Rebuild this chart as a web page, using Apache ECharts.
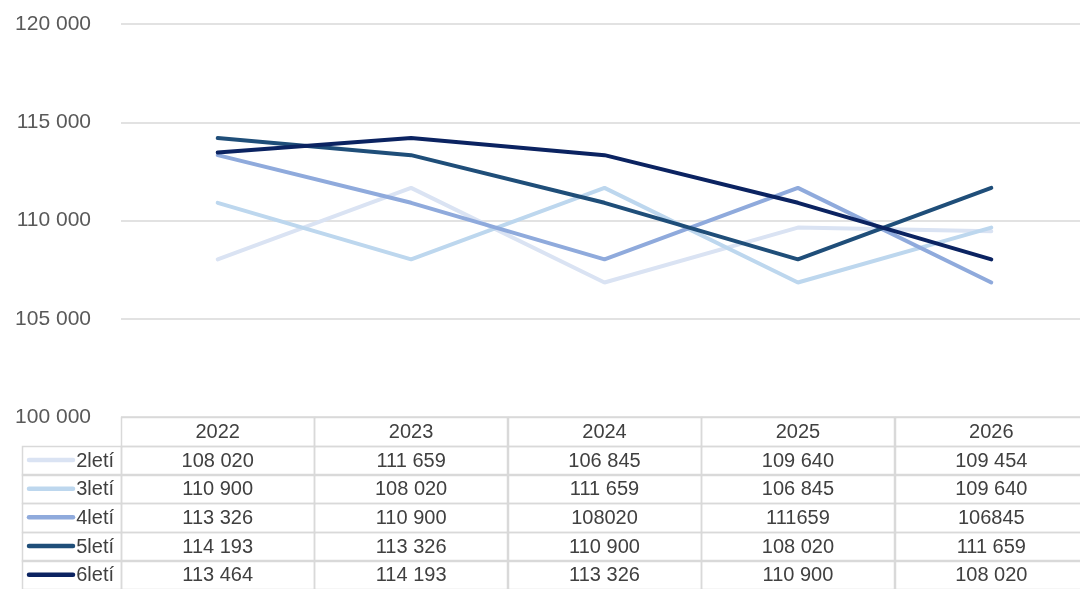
<!DOCTYPE html>
<html>
<head>
<meta charset="utf-8">
<script src="https://cdn.jsdelivr.net/npm/echarts@6/dist/echarts.min.js"></script>
<style>html,body{margin:0;padding:0;background:#fff;overflow:hidden;width:1080px;height:589px}#c{width:1090px;height:589px}</style>
</head>
<body>
<div id="c"></div>
<script>
var years = ['2022', '2023', '2024', '2025', '2026'];
var seriesNames = ['2letí', '3letí', '4letí', '5letí', '6letí'];
var s2 = [108020, 111659, 106845, 109640, 109454];
var s3 = [110900, 108020, 111659, 106845, 109640];
var s4 = [113326, 110900, 108020, 111659, 106845];
var s5 = [114193, 113326, 110900, 108020, 111659];
var s6 = [113464, 114193, 113326, 110900, 108020];
var yTicks = [100000, 105000, 110000, 115000, 120000];
// cells shown without thousands space in the table: [seriesIndex, yearIndex]
var unspacedCells = [[2, 2], [2, 3], [2, 4]];
var colors = ['#dae3f3', '#bdd7ee', '#8faadc', '#1f4e79', '#0b2361'];

var allSeries = [s2, s3, s4, s5, s6];
function fmt(v) { return String(v).replace(/\B(?=(\d{3})+(?!\d))/g, ' '); }
function isUnspaced(si, yi) {
  return unspacedCells.some(function (p) { return p[0] === si && p[1] === yi; });
}
var FONT = '"Liberation Sans", Arial, sans-serif';
var TXT = '#404040';
var BORDER = '#d9d9d9';

var tableData = [];
for (var r = 0; r <= seriesNames.length; r++) {
  for (var c = 0; c < years.length; c++) tableData.push([c, r]);
}

var chart = echarts.init(document.getElementById('c'), null, { renderer: 'canvas' });
var lineSeries = seriesNames.map(function (n, i) {
  return {
    name: n, type: 'line', xAxisIndex: 0, yAxisIndex: 0,
    data: allSeries[i], symbol: 'none', smooth: false,
    lineStyle: { color: colors[i], width: 4, cap: 'round' }, itemStyle: { color: colors[i] },
    z: 2 + i, animation: false
  };
});

chart.setOption({
  animation: false,
  grid: [
    { left: 121, width: 967, top: 24, height: 393 },
    { left: 121, width: 967, top: 417, height: 178 }
  ],
  xAxis: [
    { gridIndex: 0, type: 'category', data: years, boundaryGap: true,
      axisLine: { show: false }, axisTick: { show: false }, axisLabel: { show: false } },
    { gridIndex: 1, type: 'category', data: years, boundaryGap: true, show: false }
  ],
  yAxis: [
    { gridIndex: 0, type: 'value', min: yTicks[0], max: yTicks[yTicks.length - 1], interval: 5000,
      axisLine: { show: false }, axisTick: { show: false },
      splitLine: { lineStyle: { color: BORDER, width: 1.5 } },
      axisLabel: { margin: 30, color: '#595959', fontSize: 21, fontFamily: FONT,
        formatter: function (v) { return fmt(v); } } },
    { gridIndex: 1, type: 'category', data: ['hdr'].concat(seriesNames), inverse: true,
      boundaryGap: true, show: false }
  ],
  series: lineSeries.concat([{
    type: 'custom', xAxisIndex: 1, yAxisIndex: 1, data: tableData, clip: false, z: 10,
    renderItem: function (params, api) {
      var c = api.value(0), r = api.value(1);
      var p = api.coord([c, r]);
      var sz = api.size([1, 1]);
      var x0 = p[0] - sz[0] / 2, y0 = p[1] - sz[1] / 2;
      var text = r === 0 ? years[c] :
        (isUnspaced(r - 1, c) ? String(allSeries[r - 1][c]) : fmt(allSeries[r - 1][c]));
      var children = [
        { type: 'rect', shape: { x: Math.round(x0) + 0.5, y: Math.round(y0) + 0.5, width: Math.round(sz[0]), height: Math.round(sz[1]) },
          style: { fill: null, stroke: BORDER, lineWidth: 1.5 } },
        { type: 'text', style: { text: text, x: p[0], y: p[1] + 1, align: 'center', verticalAlign: 'middle',
          fill: TXT, font: '20px ' + FONT } }
      ];
      if (c === 0 && r > 0) {
        var lx = x0 - 99;
        children.push(
          { type: 'rect', shape: { x: Math.round(lx) + 0.5, y: Math.round(y0) + 0.5, width: 99, height: Math.round(sz[1]) },
            style: { fill: null, stroke: BORDER, lineWidth: 1.5 } },
          { type: 'line', shape: { x1: lx + 7, y1: p[1], x2: lx + 51, y2: p[1] },
            style: { stroke: colors[r - 1], lineWidth: 4.5, lineCap: 'round' } },
          { type: 'text', style: { text: seriesNames[r - 1], x: x0 - 7, y: p[1] + 1, align: 'right', verticalAlign: 'middle',
            fill: TXT, font: '20px ' + FONT } }
        );
      }
      return { type: 'group', children: children };
    }
  }])
});
</script>
</body>
</html>
